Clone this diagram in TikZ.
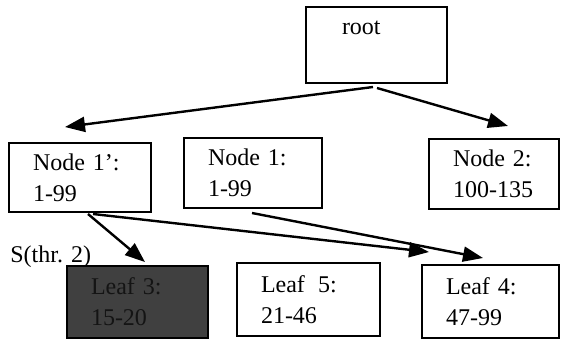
\documentclass[tikz,border=0pt]{standalone}
\usepackage{fontspec}
\setmainfont{Liberation Serif}
\usepackage{tikz}
\usetikzlibrary{arrows.meta,positioning,calc}

\begin{document}
\begin{tikzpicture}[
    x=0.5pt, y=-0.5pt,
    box/.style={draw, line width=1pt, align=left, inner xsep=12pt, inner ysep=0pt, font=\fontsize{12}{15.5}\selectfont},
    hot/.style={box, fill=black!75, text=black!92},
    arr/.style={-{Triangle[length=10pt,width=7.5pt]}, line width=1.2pt},
    lbl/.style={font=\fontsize{12}{15.5}\selectfont, inner sep=0pt}
]
\useasboundingbox (0,0) rectangle (561,341);

% upper levels
\node[box, inner xsep=18pt, text width=34.5pt, minimum height=38pt, text height=9pt, text depth=19pt] (root) at (376.5,45) {root};
\node[box, text width=47pt, minimum height=34.5pt] (n1p) at (80,177.5) {Node 1':\\1-99};
\node[box, text width=45pt, minimum height=35pt] (n1) at (253,173) {Node 1:\\1-99};
\node[box, text width=41pt, minimum height=35pt] (n2) at (494,174) {Node 2:\\100-135};

% leaves
\node[hot, text width=46.5pt, minimum height=36pt] (leaf3) at (137.5,302) {Leaf 3:\\15-20};
\node[box, text width=47.5pt, minimum height=36.5pt] (leaf5) at (308.5,299.5) {Leaf\hspace{0.55em}5:\\21-46};
\node[box, text width=44.5pt, minimum height=36.5pt] (leaf4) at (490.5,301.5) {Leaf 4:\\47-99};

\node[lbl, anchor=base west] (sthr) at (10,263) {S(thr. 2)};

\draw[arr] ($(root.south)+(-3.5,3)$) -- ($(n1p.north)+(-15,-15)$);
\draw[arr] ($(root.south)+(0.5,4)$) -- ($(n2.north)+(14,-12)$);
\draw[arr] ($(n1p.south)+(8,1)$) -- ($(leaf3.north)+(7.5,-3)$);
\draw[arr] ($(n1p.south)+(13,1)$) -- ($(leaf4.north west)+(8,-12)$);
\draw[arr] ($(n1.south)+(-1,4)$) -- ($(leaf4.north)+(-7.5,-6)$);
\end{tikzpicture}
\end{document}
